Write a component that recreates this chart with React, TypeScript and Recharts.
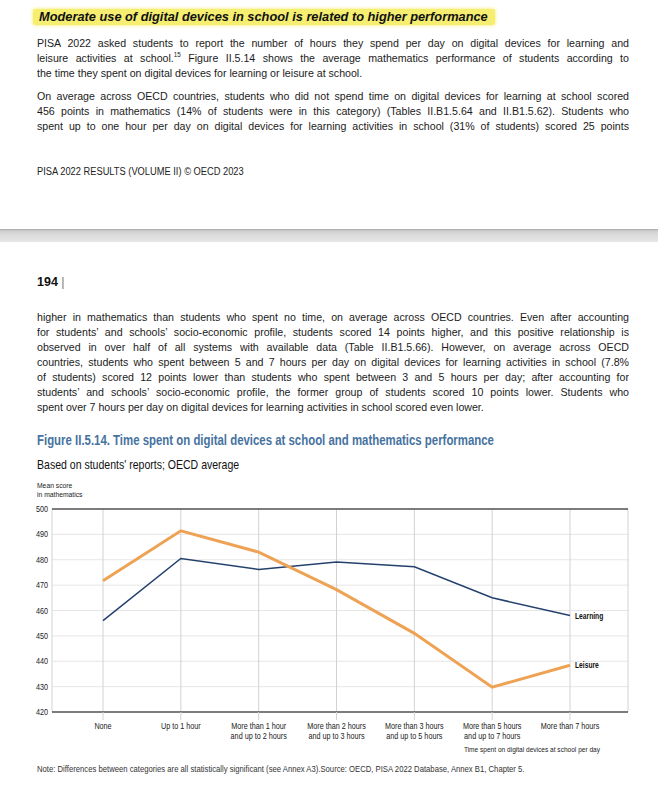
import React from 'react';
import { LineChart, Line, XAxis, YAxis, CartesianGrid, ReferenceLine } from 'recharts';

const categories = [
  'None',
  'Up to 1 hour',
  'More than 1 hour and up to 2 hours',
  'More than 2 hours and up to 3 hours',
  'More than 3 hours and up to 5 hours',
  'More than 5 hours and up to 7 hours',
  'More than 7 hours',
];
const learning = [456, 480.5, 476.2, 479.1, 477.2, 465, 458];
const leisure = [471.7, 491.4, 483, 468.2, 451, 429.8, 438.4];
const yTicks = [420, 430, 440, 450, 460, 470, 480, 490, 500];

const chartData = categories.map((cat, i) => ({
  cat,
  learning: learning[i],
  leisure: leisure[i],
}));

const ARIAL = "'Liberation Sans', Arial, sans-serif";
// no narrow face installed, so labels are squeezed horizontally instead
const SQ = 0.85;

const para1 = [
  'PISA 2022 asked students to report the number of hours they spend per day on digital devices for learning and',
  null,
  'the time they spent on digital devices for learning or leisure at school.',
];
const para2 = [
  'On average across OECD countries, students who did not spend time on digital devices for learning at school scored',
  '456 points in mathematics (14% of students were in this category) (Tables II.B1.5.64 and II.B1.5.62). Students who',
  'spent up to one hour per day on digital devices for learning activities in school (31% of students) scored 25 points',
];
const para3 = [
  'higher in mathematics than students who spent no time, on average across OECD countries. Even after accounting',
  'for students\u2019 and schools\u2019 socio-economic profile, students scored 14 points higher, and this positive relationship is',
  'observed in over half of all systems with available data (Table II.B1.5.66). However, on average across OECD',
  'countries, students who spent between 5 and 7 hours per day on digital devices for learning activities in school (7.8%',
  'of students) scored 12 points lower than students who spent between 3 and 5 hours per day; after accounting for',
  'students\u2019 and schools\u2019 socio-economic profile, the former group of students scored 10 points lower. Students who',
  'spent over 7 hours per day on digital devices for learning activities in school scored even lower.',
];

const BODY_SCALE = 0.9;

function TextRow({ top, last, children }: { top: number; last?: boolean; children: React.ReactNode }) {
  return (
    <div
      style={{
        position: 'absolute',
        left: 37,
        top,
        width: 592 / BODY_SCALE,
        height: 15,
        lineHeight: '15px',
        fontSize: 11.8,
        fontFamily: ARIAL,
        color: '#1b1b1b',
        textAlign: 'justify',
        textAlignLast: last ? 'left' : 'justify',
        overflow: 'hidden',
        transform: `scaleX(${BODY_SCALE})`,
        transformOrigin: 'left top',
      }}
    >
      {children}
    </div>
  );
}

function Squeezed({
  left,
  top,
  size,
  scale,
  color = '#1b1b1b',
  bold,
  children,
}: {
  left: number;
  top: number;
  size: number;
  scale: number;
  color?: string;
  bold?: boolean;
  children: React.ReactNode;
}) {
  return (
    <div
      style={{
        position: 'absolute',
        left,
        top,
        fontSize: size,
        lineHeight: 1.15,
        fontFamily: ARIAL,
        fontWeight: bold ? 'bold' : 'normal',
        color,
        whiteSpace: 'nowrap',
        transform: `scaleX(${scale})`,
        transformOrigin: 'left top',
      }}
    >
      {children}
    </div>
  );
}

function CategoryTick(props: any) {
  const { x, y, payload } = props;
  const parts = String(payload.value).split(' and ');
  return (
    <g transform={`translate(${x},${y}) scale(${SQ},1)`}>
      <text x={0} y={7} textAnchor="middle" fontSize={8.5} fontFamily={ARIAL} fill="#222">
        {parts[0]}
      </text>
      {parts[1] && (
        <text x={0} y={17.5} textAnchor="middle" fontSize={8.5} fontFamily={ARIAL} fill="#222">
          {'and ' + parts[1]}
        </text>
      )}
    </g>
  );
}

function ScoreTick(props: any) {
  const { x, y, payload } = props;
  return (
    <g transform={`translate(${x},${y}) scale(0.85,1)`}>
      <text x={0} y={3} textAnchor="end" fontSize={8.5} fontFamily={ARIAL} fill="#222">
        {payload.value}
      </text>
    </g>
  );
}

const endLabel = (name: string) => (props: any) => {
  if (props.index !== categories.length - 1) return <g />;
  return (
    <g transform={`translate(${props.x + 5},${props.y + 3}) scale(0.79,1)`}>
      <text x={0} y={0} fontSize={8.5} fontWeight="bold" fontFamily={ARIAL} fill="#111">
        {name}
      </text>
    </g>
  );
};

export default function App() {
  return (
    <div style={{ position: 'absolute', left: 0, top: 0, width: 658, height: 791, background: '#fff', overflow: 'hidden' }}>
      {/* highlighted heading */}
      <div
        style={{
          position: 'absolute',
          left: 33,
          top: 9,
          width: 462,
          height: 16,
          background: '#f5ee70',
          borderRadius: 3,
          boxShadow: '0 0 3px 1px rgba(245,238,112,0.7)',
        }}
      />
      <div
        style={{
          position: 'absolute',
          left: 39,
          top: 8,
          lineHeight: '17px',
          fontSize: 12.8,
          fontWeight: 'bold',
          fontStyle: 'italic',
          fontFamily: ARIAL,
          color: '#111',
          whiteSpace: 'nowrap',
        }}
      >
        Moderate use of digital devices in school is related to higher performance
      </div>

      <TextRow top={35.5}>{para1[0]}</TextRow>
      <TextRow top={50.5}>
        leisure activities at school.
        <sup style={{ fontSize: 7, lineHeight: 0 }}>15</sup> Figure II.5.14 shows the average mathematics performance of
        students according to
      </TextRow>
      <TextRow top={65.5} last>
        {para1[2]}
      </TextRow>
      {para2.map((t, i) => (
        <TextRow key={'p2' + i} top={88.5 + i * 15}>
          {t}
        </TextRow>
      ))}

      <Squeezed left={37} top={166} size={10} scale={0.93} color="#222">
        PISA 2022 RESULTS (VOLUME II) © OECD 2023
      </Squeezed>

      {/* page break */}
      <div
        style={{
          position: 'absolute',
          left: 0,
          top: 229,
          width: 658,
          height: 13,
          background: 'linear-gradient(#a8a8a8 0px, #cfcfcf 2px, #dcdcdc 6px, #e6e6e6 13px)',
        }}
      />

      <div style={{ position: 'absolute', left: 37, top: 275, fontSize: 12.5, fontFamily: ARIAL, color: '#111', whiteSpace: 'nowrap' }}>
        <b>194</b> <span style={{ color: '#777', fontWeight: 300 }}>|</span>
      </div>

      {para3.map((t, i) => (
        <TextRow key={'p3' + i} top={309.5 + i * 15} last={i === para3.length - 1}>
          {t}
        </TextRow>
      ))}

      <Squeezed left={37} top={432} size={14} scale={0.815} color="#4672a0" bold>
        Figure II.5.14. Time spent on digital devices at school and mathematics performance
      </Squeezed>
      <Squeezed left={37} top={458} size={13} scale={0.81} color="#111">
        Based on students' reports; OECD average
      </Squeezed>
      <Squeezed left={37} top={482} size={7.5} scale={0.9} color="#222">
        Mean score
        <br />
        in mathematics
      </Squeezed>

      <div style={{ position: 'absolute', left: 0, top: 470 }}>
        <LineChart width={658} height={300} data={chartData} margin={{ top: 39, right: 30, bottom: 28, left: 12 }}>
          <CartesianGrid stroke="#e6e6e6" horizontal={true} vertical={false} />
          <CartesianGrid stroke="#d2d2d2" horizontal={false} vertical={true} />
          <XAxis
            dataKey="cat"
            padding={{ left: 51, right: 58 }}
            axisLine={false}
            tickLine={{ stroke: '#d2d2d2' }}
            tickSize={8}
            tickMargin={2}
            height={30}
            interval={0}
            tick={<CategoryTick />}
          />
          <YAxis
            domain={[420, 500]}
            ticks={yTicks}
            width={40}
            axisLine={false}
            tickLine={false}
            tickSize={0}
            tickMargin={4}
            tick={<ScoreTick />}
          />
          <ReferenceLine y={500} stroke="#555" strokeWidth={1.3} />
          <ReferenceLine y={420} stroke="#555" strokeWidth={1.3} />
          <Line
            dataKey="learning"
            stroke="#23416c"
            strokeWidth={1.5}
            dot={false}
            isAnimationActive={false}
            label={endLabel('Learning')}
          />
          <Line
            dataKey="leisure"
            stroke="#eea254"
            strokeWidth={3}
            dot={false}
            isAnimationActive={false}
            label={endLabel('Leisure')}
          />
        </LineChart>
      </div>

      <div style={{ position: 'absolute', right: 58, top: 745, transform: 'scaleX(0.82)', transformOrigin: 'right top', fontSize: 8, lineHeight: 1.15, fontFamily: ARIAL, color: '#222', whiteSpace: 'nowrap' }}>
        Time spent on digital devices at school per day
      </div>
      <Squeezed left={37} top={764} size={9.5} scale={0.81} color="#333">
        Note: Differences between categories are all statistically significant (see Annex A3).Source: OECD, PISA 2022 Database, Annex
        B1, Chapter 5.
      </Squeezed>
    </div>
  );
}
